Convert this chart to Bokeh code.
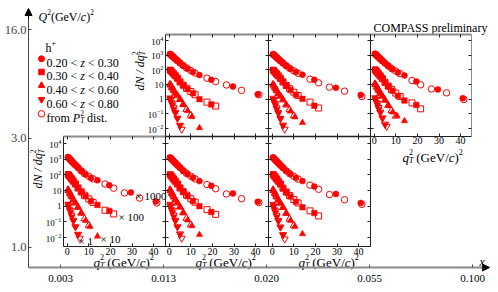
import math
from bokeh.plotting import figure
from bokeh.models import (Range1d, LogScale, LinearAxis, LogAxis, FixedTicker,
                          Arrow, NormalHead)
from bokeh.core.properties import value
from bokeh.embed import file_html
from bokeh.resources import INLINE

# ---------------- data ----------------
x_bin_edges = ["0.003", "0.013", "0.020", "0.055", "0.100"]
q2_bin_edges = ["1.0", "3.0", "16.0"]
qt2_ticks = [0, 10, 20, 30, 40]
dn_ticks = [0.01, 0.1, 1, 10, 100, 1000, 10000]
z_bins = [("0.20", "0.30"), ("0.30", "0.40"), ("0.40", "0.60"), ("0.60", "0.80")]
z_scale = ["× 1000", "× 100", "× 10", "× 1"]

# q_T^2 bin centres (GeV/c)^2 : filled = measured q_T^2, open = from P_T^2 dist.
q2_f_z1 = [0.3, 0.7, 1.1, 1.6, 2.2, 2.9, 3.8, 5.0, 6.5, 8.5, 11.0, 14.0, 19.5, 29.5, 41.0]
q2_o_z1 = [0.6, 1.3, 2.0, 2.8, 3.8, 5.0, 6.5, 8.0, 10.0, 12.0, 17.5, 21.5, 26.5, 33.5, 41.5]
q2_f_z2 = [0.3, 0.7, 1.1, 1.6, 2.2, 2.9, 3.8, 5.0, 6.5, 8.5, 11.0, 14.0, 19.5]
q2_o_z2 = [0.6, 1.3, 2.0, 2.8, 3.8, 5.0, 6.5, 8.0, 10.0, 12.0, 17.5, 21.5]
q2_f_z3 = [0.3, 0.7, 1.1, 1.6, 2.2, 2.9, 3.8, 5.0, 6.5, 8.5, 10.5, 14.0]
q2_o_z3 = [0.6, 1.3, 2.0, 2.8, 3.8, 5.0, 6.5, 8.0, 10.0]
q2_f_z4 = [0.3, 0.7, 1.1, 1.6, 2.2, 2.9, 3.8, 5.0]
q2_o_z4 = [0.6, 1.3, 2.0, 2.8, 3.8, 5.0, 5.8]

# Q^2 1-3, x 0.003-0.013
lo1_z1_f = [1350, 1200, 1050, 880, 720, 570, 420, 290, 180, 105, 62, 45, 22, 7.5, 2.0]
lo1_z1_o = [1250, 980, 760, 580, 420, 290, 180, 120, 80, 55, 26, 14, 7.0, 3.3, 1.6]
lo1_z2_f = [110, 95, 80, 65, 50, 37, 26, 14.5, 8.0, 4.3, 2.1, 1.2, 0.5]
lo1_z2_o = [100, 75, 56, 40, 26, 14.5, 8.2, 5.0, 2.9, 1.7, 0.55, 0.32]
lo1_z3_f = [12, 9.5, 7.4, 5.3, 3.7, 2.5, 1.6, 0.85, 0.36, 0.12, 0.05, 0.012]
lo1_z3_o = [10, 6.6, 4.3, 2.6, 1.6, 0.85, 0.36, 0.16, 0.06]
lo1_z4_f = [1.4, 0.95, 0.64, 0.4, 0.21, 0.115, 0.048, 0.016]
lo1_z4_o = [1.05, 0.53, 0.27, 0.125, 0.048, 0.016, 0.009]
# Q^2 1-3, x 0.013-0.020
lo2_z1_f = [1300, 1150, 1010, 850, 700, 560, 420, 290, 185, 110, 66, 40, 20, 6.5, 1.9]
lo2_z1_o = [1200, 940, 740, 570, 415, 290, 185, 125, 82, 55, 24, 13, 6.0, 3.0, 1.7]
lo2_z2_f = [108, 93, 78, 64, 50, 37, 26, 14.5, 8.2, 4.4, 2.1, 1.0, 0.42]
lo2_z2_o = [98, 74, 55, 40, 26, 14.5, 8.4, 5.1, 3.0, 1.8, 0.6, 0.3]
lo2_z3_f = [12, 9.4, 7.3, 5.3, 3.7, 2.5, 1.6, 0.88, 0.38, 0.13, 0.055, 0.015]
lo2_z3_o = [10, 6.5, 4.3, 2.6, 1.6, 0.88, 0.38, 0.17, 0.065]
lo2_z4_f = [1.35, 0.92, 0.62, 0.39, 0.21, 0.115, 0.048, 0.016]
lo2_z4_o = [1.02, 0.52, 0.27, 0.125, 0.048, 0.017, 0.009]
# Q^2 1-3, x 0.020-0.055
lo3_z1_f = [1300, 1150, 1000, 840, 690, 550, 410, 285, 180, 108, 64, 40, 18, 6.0, 1.6]
lo3_z1_o = [1200, 930, 730, 560, 410, 285, 180, 122, 80, 54, 22, 12, 5.5, 2.6, 1.3]
lo3_z2_f = [110, 94, 79, 64, 50, 37, 26, 14, 7.8, 4.1, 1.9, 0.85, 0.36]
lo3_z2_o = [100, 75, 55, 40, 26, 14, 8.0, 4.8, 2.7, 1.6, 0.5, 0.24]
lo3_z3_f = [12, 9.4, 7.3, 5.2, 3.6, 2.4, 1.55, 0.82, 0.35, 0.12, 0.05, 0.017]
lo3_z3_o = [10, 6.4, 4.2, 2.5, 1.55, 0.82, 0.35, 0.15, 0.06]
lo3_z4_f = [1.35, 0.92, 0.62, 0.39, 0.21, 0.11, 0.046, 0.015]
lo3_z4_o = [1.0, 0.5, 0.26, 0.12, 0.046, 0.015, 0.008]
# Q^2 3-16, x 0.013-0.020
hi1_z1_f = [1200, 1070, 955, 813, 676, 550, 417, 295, 195, 120, 72, 44, 21, 7.2, 2.2]
hi1_z1_o = [1120, 890, 720, 560, 420, 295, 195, 135, 89, 60, 27, 16, 9.3, 4.0, 2.0]
hi1_z2_f = [100, 89, 76, 63, 50, 38, 27, 15, 8.9, 4.9, 2.5, 1.0, 0.44]
hi1_z2_o = [93, 71, 54, 40, 27, 15, 8.9, 5.6, 3.3, 2.0, 0.63, 0.34]
hi1_z3_f = [11, 8.9, 7.1, 5.2, 3.7, 2.5, 1.8, 1.0, 0.45, 0.16, 0.063, 0.011]
hi1_z3_o = [9.5, 6.3, 4.2, 2.6, 1.7, 0.95, 0.43, 0.2, 0.08]
hi1_z4_f = [1.26, 0.87, 0.6, 0.38, 0.2, 0.115, 0.05, 0.0166]
hi1_z4_o = [0.95, 0.5, 0.26, 0.126, 0.05, 0.0166, 0.0089]
# Q^2 3-16, x 0.020-0.055
hi2_z1_f = [1150, 1050, 940, 800, 660, 540, 410, 290, 190, 115, 70, 46, 21, 5.9, 1.95]
hi2_z1_o = [1100, 880, 700, 550, 410, 290, 190, 130, 86, 58, 23, 13, 6.6, 3.5, 1.5]
hi2_z2_f = [100, 88, 75, 62, 49, 37, 26, 15, 8.5, 4.2, 2.0, 1.05, 0.36]
hi2_z2_o = [92, 70, 53, 39, 26, 15, 8.6, 5.2, 3.0, 1.8, 0.63, 0.25]
hi2_z3_f = [11, 8.7, 7.0, 5.1, 3.6, 2.4, 1.6, 0.9, 0.42, 0.15, 0.06, 0.025]
hi2_z3_o = [9.3, 6.2, 4.1, 2.5, 1.6, 0.9, 0.4, 0.19, 0.075]
hi2_z4_f = [1.2, 0.85, 0.58, 0.37, 0.2, 0.11, 0.048, 0.016]
hi2_z4_o = [0.93, 0.49, 0.25, 0.12, 0.048, 0.017, 0.009]
# Q^2 3-16, x 0.055-0.100
hi3_z1_f = [1250, 1100, 980, 830, 680, 550, 410, 285, 185, 110, 66, 41, 16, 4.6, 1.17]
hi3_z1_o = [1150, 900, 720, 560, 410, 285, 185, 125, 82, 55, 18.6, 9.5, 5.0, 2.7, 0.95]
hi3_z2_f = [105, 90, 76, 62, 48, 36, 25, 14, 7.6, 3.8, 1.7, 0.8, 0.4]
hi3_z2_o = [95, 71, 53, 38, 25, 14, 7.8, 4.6, 2.6, 1.5, 0.56, 0.22]
hi3_z3_f = [12, 9.3, 7.2, 5.2, 3.6, 2.4, 1.6, 0.85, 0.38, 0.13, 0.075, 0.033]
hi3_z3_o = [10, 6.5, 4.3, 2.6, 1.6, 0.85, 0.37, 0.17, 0.07]
hi3_z4_f = [1.3, 0.9, 0.62, 0.39, 0.21, 0.12, 0.052, 0.018]
hi3_z4_o = [1.0, 0.52, 0.27, 0.13, 0.052, 0.02, 0.014]

# ---------------- layout helpers (canvas pixels -> bin-index coords) ----------------
W, H = 490, 284
PX0, PX1, PY0, PY1 = 0.0, float(W), 0.0, float(H)
def U(px):
    return (px - 60.0) / 103.0
def V(py):
    return (246.7 - py) / 108.8

FONT = "Liberation Serif"
RED = "#ff0000"

p = figure(width=W, height=H, x_range=Range1d(U(PX0), U(PX1)),
           y_range=Range1d(V(PY1), V(PY0)), output_backend="svg",
           toolbar_location=None, x_axis_location=None, y_axis_location=None,
           min_border=0, outline_line_color=None)
p.grid.visible = False
p.background_fill_color = "white"
p.border_fill_color = "white"

q2_f = [q2_f_z1, q2_f_z2, q2_f_z3, q2_f_z4]
q2_o = [q2_o_z1, q2_o_z2, q2_o_z3, q2_o_z4]
markers = ["circle", "square", "triangle", "inverted_triangle"]
msizes = [6, 5.5, 6.5, 6.5]

panels = [
    # name, left, right, top, bottom (canvas px), row, labels-y, labels-x, values
    ("lo1", 63, 165, 135.5, 246, "lo", True, True,
     [(lo1_z1_f, lo1_z1_o), (lo1_z2_f, lo1_z2_o), (lo1_z3_f, lo1_z3_o), (lo1_z4_f, lo1_z4_o)]),
    ("lo2", 165, 268, 135.5, 246, "lo", False, True,
     [(lo2_z1_f, lo2_z1_o), (lo2_z2_f, lo2_z2_o), (lo2_z3_f, lo2_z3_o), (lo2_z4_f, lo2_z4_o)]),
    ("lo3", 268, 370, 135.5, 246, "lo", False, True,
     [(lo3_z1_f, lo3_z1_o), (lo3_z2_f, lo3_z2_o), (lo3_z3_f, lo3_z3_o), (lo3_z4_f, lo3_z4_o)]),
    ("hi1", 165, 268, 34, 135.5, "hi", True, False,
     [(hi1_z1_f, hi1_z1_o), (hi1_z2_f, hi1_z2_o), (hi1_z3_f, hi1_z3_o), (hi1_z4_f, hi1_z4_o)]),
    ("hi2", 268, 370, 34, 135.5, "hi", False, False,
     [(hi2_z1_f, hi2_z1_o), (hi2_z2_f, hi2_z2_o), (hi2_z3_f, hi2_z3_o), (hi2_z4_f, hi2_z4_o)]),
    ("hi3", 370, 471, 34, 135.5, "hi", False, True,
     [(hi3_z1_f, hi3_z1_o), (hi3_z2_f, hi3_z2_o), (hi3_z3_f, hi3_z3_o), (hi3_z4_f, hi3_z4_o)]),
]
# pixel rows of the 10^4 and 10^-2 decades
row_decades = {"hi": (40.0, 128.0), "lo": (143.0, 237.0)}
X_ZERO_OFF = 3.7      # px from panel left edge to q_T^2 = 0
X_PX_UNIT = 2.16      # px per (GeV/c)^2

def ldat(py, row):
    p4, pm2 = row_decades[row]
    return 4.0 - (py - p4) / (pm2 - p4) * 6.0

extra_x, extra_y, extra_ys = {}, {}, {}
for name, l, r, t, b, row, ylab, xlab, vals in panels:
    extra_x["x" + name] = Range1d((PX0 - l - X_ZERO_OFF) / X_PX_UNIT,
                                  (PX1 - l - X_ZERO_OFF) / X_PX_UNIT)
    extra_y["y" + name] = Range1d(10 ** ldat(PY1, row), 10 ** ldat(PY0, row))
    extra_ys["y" + name] = LogScale()
p.extra_x_ranges = extra_x
p.extra_y_ranges = extra_y
p.extra_y_scales = extra_ys

def style_axis(ax, color="#222", width=1, labels=True, size="9px"):
    ax.axis_line_color = color
    ax.axis_line_width = width
    ax.major_tick_line_color = "#222"
    ax.major_tick_in = 3
    ax.major_tick_out = 0
    ax.minor_tick_line_color = None
    ax.major_label_text_font = FONT
    ax.major_label_text_font_size = size
    ax.major_label_text_color = "black" if labels else None
    ax.major_label_standoff = 2

for name, l, r, t, b, row, ylab, xlab, vals in panels:
    xr, yr = "x" + name, "y" + name
    ylo, yhi = 10 ** ldat(b, row), 10 ** ldat(t, row)
    xlo = -X_ZERO_OFF / X_PX_UNIT
    xhi = (r - l - X_ZERO_OFF) / X_PX_UNIT

    for zi in range(4):
        vf, vo = vals[zi]
        p.scatter(x=q2_f[zi], y=vf, x_range_name=xr, y_range_name=yr,
                  marker=markers[zi], size=msizes[zi], fill_color=RED,
                  line_color=RED, line_width=0.5)
        p.scatter(x=q2_o[zi], y=vo, x_range_name=xr, y_range_name=yr,
                  marker=markers[zi], size=msizes[zi] + 0.5, fill_color=None,
                  line_color=RED, line_width=1)

    top = LinearAxis(x_range_name=xr, ticker=FixedTicker(ticks=qt2_ticks, minor_ticks=[]),
                     fixed_location=V(t), bounds=(xlo, xhi))
    style_axis(top, color="#8a8a8a", width=2, labels=False)
    p.add_layout(top, "above")
    bot = LinearAxis(x_range_name=xr, ticker=FixedTicker(ticks=qt2_ticks, minor_ticks=[]),
                     fixed_location=V(b), bounds=(xlo, xhi))
    style_axis(bot, labels=xlab, size="10px")
    bot.major_label_standoff = 1
    p.add_layout(bot, "below")
    left = LogAxis(y_range_name=yr, ticker=FixedTicker(ticks=dn_ticks, minor_ticks=[]),
                   fixed_location=U(l), bounds=(ylo, yhi),
                   major_label_overrides={1: "1", 10: "10"})
    style_axis(left, labels=ylab, size="9px")
    p.add_layout(left, "left")
    right = LogAxis(y_range_name=yr, ticker=FixedTicker(ticks=dn_ticks, minor_ticks=[]),
                    fixed_location=U(r), bounds=(ylo, yhi))
    style_axis(right, color="#222" if name != "hi3" else "#8a8a8a", labels=False)
    p.add_layout(right, "right")

# ---------------- outer axes ----------------
XAX_Y = 267.0
x_tick_pos = list(range(len(x_bin_edges)))
xo = LinearAxis(ticker=FixedTicker(ticks=x_tick_pos, minor_ticks=[]),
                fixed_location=V(XAX_Y), bounds=(U(28), U(483)))
xo.axis_line_color = "#8a8a8a"
xo.axis_line_width = 2
xo.major_tick_line_color = "#555"
xo.major_tick_in = 3
xo.major_tick_out = 0
xo.minor_tick_line_color = None
xo.major_label_text_color = None
p.add_layout(xo, "below")
# tick labels of the x bins (drawn through the same scale, kept inside the canvas)
p.text(x=x_tick_pos, y=[V(278.0)] * len(x_bin_edges), text=x_bin_edges,
       text_font=value(FONT), text_font_size="11px", text_align="center",
       text_baseline="alphabetic", text_color="black")

yo = LinearAxis(ticker=FixedTicker(ticks=list(range(len(q2_bin_edges))), minor_ticks=[]),
                major_label_overrides={i: s for i, s in enumerate(q2_bin_edges)},
                fixed_location=U(28), bounds=(V(XAX_Y), V(16)))
yo.axis_line_color = "#444"
yo.axis_line_width = 1
yo.major_tick_line_color = "#444"
yo.major_tick_in = 3
yo.major_tick_out = 0
yo.minor_tick_line_color = None
yo.major_label_text_font = FONT
yo.major_label_text_font_size = "12.5px"
yo.major_label_standoff = 2
p.add_layout(yo, "left")

p.add_layout(Arrow(end=NormalHead(size=7, fill_color="black", line_color="black"),
                   x_start=U(480), y_start=V(XAX_Y), x_end=U(489), y_end=V(XAX_Y),
                   line_color="#8a8a8a", line_width=2))
p.add_layout(Arrow(end=NormalHead(size=7, fill_color="black", line_color="black"),
                   x_start=U(28), y_start=V(18), x_end=U(28), y_end=V(8)))

# ---------------- rich text helper ----------------
ROMAN = {" ": .25, "(": .333, ")": .333, ".": .25, "/": .278, "<": .564, "×": .564,
         "+": .564, "A": .722, "C": .667, "G": .722, "M": .889, "O": .722, "P": .556,
         "S": .556, "V": .722, "a": .444, "d": .5, "e": .444, "f": .333, "h": .5,
         "i": .278, "l": .278, "m": .778, "n": .5, "o": .5, "p": .5, "r": .333,
         "s": .389, "t": .278, "y": .5}
ITAL = {"N": .667, "P": .611, "Q": .722, "T": .556, "c": .444, "d": .5, "q": .5,
        "z": .389, "x": .444, " ": .25, "/": .278}

def tw(s, size, it):
    tab = ITAL if it else ROMAN
    return sum(tab.get(c, 0.5) for c in s) * size

SUP, SUB = -0.40, 0.24
def rich(px, py, parts, size, vertical=False):
    pos = 0.0
    for text, it, sc, shift, adv in parts:
        fs = size * sc
        off = shift * size
        lead = len(text) - len(text.lstrip(" "))
        shown = text.strip(" ")
        start = pos + tw(" " * lead, fs, it)
        if vertical:
            x, y, ang = px + off, py - start, math.pi / 2
        else:
            x, y, ang = px + start, py + off, 0.0
        p.text(x=[U(x)], y=[V(y)], text=[shown], angle=ang,
               text_font=value(FONT), text_font_style="italic" if it else "normal",
               text_font_size=f"{fs:.1f}px", text_align="left",
               text_baseline="alphabetic", text_color="black")
        if adv:
            pos += tw(text, fs, it)

def qt2_title(px, py):
    rich(px, py, [("q", True, 1, 0, True), ("T", True, .62, SUB, False),
                  ("2", False, .62, SUP, True), (" (GeV/", False, 1, 0, True),
                  ("c", True, 1, 0, True), (")", False, 1, 0, True),
                  ("2", False, .62, SUP, True)], 13)

def dn_title(px, py):
    rich(px, py, [("dN / dq", True, 1, 0, True), ("T", True, .62, SUB + 0.05, False),
                  ("2", False, .62, SUP, True)], 12, vertical=True)

for px in (93, 195, 298):
    qt2_title(px, 261.5)
qt2_title(402, 157)
dn_title(37.5, 188)
dn_title(139, 90)

rich(38, 16, [("Q", True, 1, 0, True), ("2", False, .62, SUP, True),
              ("(GeV/", False, 1, 0, True), ("c", True, 1, 0, True),
              (")", False, 1, 0, True), ("2", False, .62, SUP, True)], 12)
rich(479, 261.5, [("x", True, 1, 0, True)], 12)
rich(373, 27, [("COMPASS preliminary", False, 1, 0, True)], 12)

# legend
rich(45, 47, [("h", False, 1, 0, True), ("+", False, .65, -0.38, True)], 12)
leg_y = [58.3, 71.5, 85, 99, 113.3]
for zi, (lo, hi) in enumerate(z_bins):
    p.scatter(x=[U(41)], y=[V(leg_y[zi])], marker=markers[zi], size=msizes[zi],
              fill_color=RED, line_color=RED)
    rich(46, leg_y[zi] + 4, [(lo + " < ", False, 1, 0, True), ("z", True, 1, 0, True),
                              (" < " + hi, False, 1, 0, True)], 12)
p.scatter(x=[U(41)], y=[V(leg_y[4])], marker="circle", size=6.5, fill_color=None,
          line_color=RED, line_width=1)
rich(46, leg_y[4] + 4, [("from ", False, 1, 0, True), ("P", True, 1, 0, True),
                         ("T", True, .62, SUB, False), ("2", False, .62, SUP, True),
                         (" dist.", False, 1, 0, True)], 12)

# multiplication factors (first low-Q^2 panel)
rich(135, 195.5, [(z_scale[0], False, 1, 0, True)], 11)
rich(118, 216.5, [(z_scale[1], False, 1, 0, True)], 11)
rich(100, 238.5, [(z_scale[2], False, 1, 0, True)], 11)
rich(78, 240.5, [(z_scale[3], False, 1, 0, True)], 11)

open("out.html", "w").write(file_html(p, INLINE))
